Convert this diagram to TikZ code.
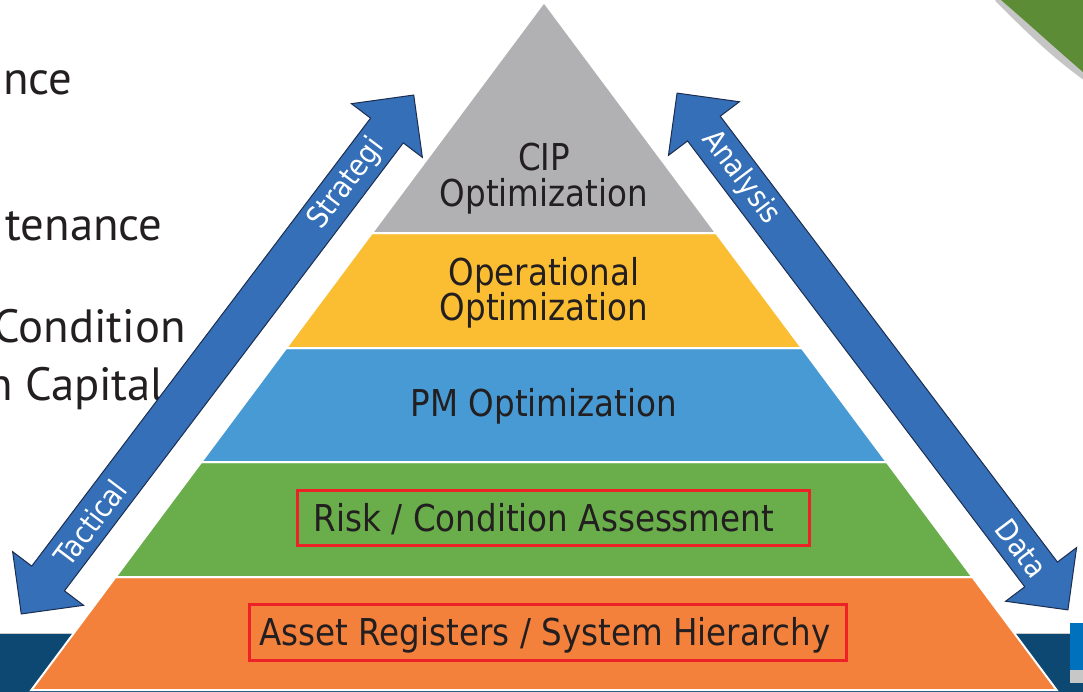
\documentclass[tikz,border=0pt]{standalone}
\usepackage{fontspec}
\setmainfont{PT Sans}
\newfontfamily\pyrfont[FakeStretch=0.88]{DejaVu Sans}
\usetikzlibrary{shapes.arrows}

\definecolor{layergrey}{RGB}{177,177,179}
\definecolor{layeryellow}{RGB}{251,190,50}
\definecolor{layerblue}{RGB}{71,154,211}
\definecolor{layergreen}{RGB}{105,174,75}
\definecolor{layerorange}{RGB}{243,129,60}
\definecolor{arrowblue}{RGB}{52,111,183}
\definecolor{arrowedge}{RGB}{28,45,79}
\definecolor{boxred}{RGB}{236,34,39}
\definecolor{inkdark}{RGB}{35,31,32}
\definecolor{bandnavy}{RGB}{12,72,114}
\definecolor{bandblue}{RGB}{0,113,188}
\definecolor{swooshgreen}{RGB}{92,140,54}

\tikzset{every picture/.style={line width=0.75pt}}
\tikzset{
  layer/.style={draw=white, line width=1.5pt},
  layertext/.style={font=\pyrfont\fontsize{27.75}{33}\selectfont, text=inkdark, inner sep=0pt, anchor=base},
  redbox/.style={draw=boxred, line width=2.25pt, inner sep=0pt},
  blockarrow/.style={double arrow, draw=arrowedge, fill=arrowblue, line width=0.75pt,
    inner xsep=0pt, inner ysep=15pt, double arrow head extend=18pt, double arrow tip angle=90},
  arrowtext/.style={font=\pyrfont\fontsize{22.5}{26}\selectfont, text=white, inner sep=0pt},
  sidetext/.style={font=\fontsize{35}{41}\selectfont, text=inkdark, inner sep=0pt, anchor=base east}
}

\begin{document}
\begin{tikzpicture}[x=0.75pt,y=0.75pt,yscale=-1,xscale=1]
    \useasboundingbox (0,0) rectangle (1083,692);
    \clip (0,0) rectangle (1083,692);

    %Shape: Band at the foot of the slide
    \fill [bandnavy] (0,634) rectangle (1083,692);
    \draw [black!20, line width=0.75pt] (0,633.5) -- (1083,633.5);
    \fill [bandblue] (1070,623) rectangle (1083,670);
    \fill [black!22] (1070,670) rectangle (1083,683);

    %Shape: Swoosh in the corner
    \draw [black!45, line width=6pt, opacity=0.5] (998,-2) .. controls (1026,26) and (1052,52) .. (1085,76);
    \fill [swooshgreen] (1001,0) .. controls (1029,24) and (1055,48) .. (1083,72) -- (1083,0) -- cycle;

    % Text Node
    \node (lineA) [sidetext] at (73,95) {ance};
    % Text Node
    \node (lineB) [sidetext] at (163,240) {tenance};
    % Text Node
    \node (lineC) [sidetext] at (186,342) {Condition};
    % Text Node
    \node (lineD) [sidetext] at (165,400) {n Capital};

    %Shape: Pyramid layers
    \draw [layer, fill=layerorange] (115.6,577) -- (972.4,577) -- (1056.6,690) -- (31.4,690) -- cycle;
    \draw [layer, fill=layergreen] (201.3,462) -- (886.7,462) -- (972.4,577) -- (115.6,577) -- cycle;
    \draw [layer, fill=layerblue] (286.2,348) -- (801.8,348) -- (886.7,462) -- (201.3,462) -- cycle;
    \draw [layer, fill=layeryellow] (371.9,233) -- (716.1,233) -- (801.8,348) -- (286.2,348) -- cycle;
    \draw [layer, fill=layergrey] (544,2) -- (716.1,233) -- (371.9,233) -- cycle;

    % Text Node
    \node (cip) [layertext] at (544,171) {CIP};
    \node (cipopt) [layertext] at (544,206) {Optimization};
    % Text Node
    \node (oper) [layertext] at (544,285) {Operational};
    \node (operopt) [layertext] at (544,320) {Optimization};
    % Text Node
    \node (pmopt) [layertext] at (544,416) {PM Optimization};
    % Text Node
    \node (risk) [layertext] at (544,531) {Risk / Condition Assessment};
    \node (riskbox) [redbox, minimum width=384pt, minimum height=41pt] at (553,518) {};
    % Text Node
    \node (asset) [layertext] at (545,645) {Asset Registers / System Hierarchy};
    \node (assetbox) [redbox, minimum width=448pt, minimum height=41.5pt] at (548,632.5) {};

    %Shape: Double arrows beside the pyramid
    \node (arrowL) [blockarrow, minimum height=488pt, rotate=52.9] at (217.5,354.5) {};
    \node (arrowR) [blockarrow, minimum height=486pt, rotate=-52.9] at (872.5,351.5) {};

    % Text Node
    \node (strat) [arrowtext, rotate=52.9] at (346.5,183.7) {Strategi};
    % Text Node
    \node (tact) [arrowtext, rotate=52.9] at (90.3,522.9) {Tactical};
    % Text Node
    \node (anal) [arrowtext, rotate=-52.9] at (741,177.5) {Analysis};
    % Text Node
    \node (data) [arrowtext, rotate=-52.9] at (1021.5,548.5) {Data};
\end{tikzpicture}
\end{document}
